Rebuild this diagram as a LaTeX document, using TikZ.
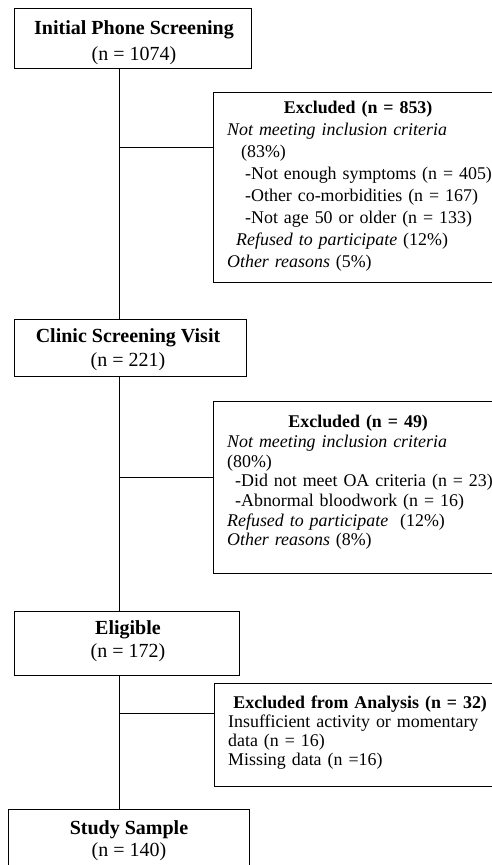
\documentclass[tikz,border=0pt]{standalone}
\usepackage{fontspec}
\setmainfont{Liberation Serif}
\begin{document}
\begin{tikzpicture}[x=1pt,y=-1pt,
  mainbox/.style={draw, line width=1.1pt, inner sep=0pt, anchor=north west},
  maintext/.style={inner sep=0pt, align=center},
  exbox/.style={draw, line width=1.1pt, inner sep=0pt, anchor=north west},
  extext/.style={anchor=north west, inner sep=0pt, text width=300pt, align=left},
  conn/.style={line width=0.9pt}]
\useasboundingbox (0,0) rectangle (492,865);
\clip (0,0) rectangle (492,865);
% main boxes
\node[mainbox, minimum width=237pt, minimum height=60pt] (phone) at (14,8) {};
\node[maintext, font=\fontsize{20}{26}\selectfont] (phoneT) at (134,43)
  {\textbf{Initial Phone Screening}\\(n = 1074)};
\node[mainbox, minimum width=232pt, minimum height=57pt] (clinic) at (14,319) {};
\node[maintext, font=\fontsize{20}{24}\selectfont] (clinicT) at (128,350)
  {\textbf{Clinic Screening Visit}\\(n = 221)};
\node[mainbox, minimum width=225pt, minimum height=64pt] (elig) at (14,611) {};
\node[maintext, font=\fontsize{20}{23}\selectfont] (eligT) at (128,641.5)
  {\textbf{Eligible}\\(n = 172)};
\node[mainbox, minimum width=241pt, minimum height=66pt] (study) at (8,809) {};
\node[maintext, font=\fontsize{20}{22}\selectfont] (studyT) at (129,841)
  {\textbf{Study Sample}\\(n = 140)};
% excluded boxes
\node[exbox, minimum width=290pt, minimum height=190pt] (ex1) at (213,92) {};
\node[exbox, minimum width=290pt, minimum height=172pt] (ex2) at (213,401) {};
\node[exbox, minimum width=290pt, minimum height=103pt] (ex3) at (214,683) {};
% excluded texts
\node[extext, font=\fontsize{17.9}{22}\selectfont] (ex1t) at (227,101)
  {\makebox[262pt]{\textbf{Excluded (n = 853)}}\\
   \textit{Not meeting inclusion criteria}\\
   \hspace*{14pt}(83\%)\\
   \hspace*{18pt}-Not enough symptoms (n = 405)\\
   \hspace*{18pt}-Other co-morbidities (n = 167)\\
   \hspace*{18pt}-Not age 50 or older (n = 133)\\
   \hspace*{9pt}\textit{Refused to participate} (12\%)\\
   \textit{Other reasons} (5\%)};
\node[extext, font=\fontsize{17.9}{19.7}\selectfont] (ex2t) at (227,415)
  {\makebox[262pt]{\textbf{Excluded (n = 49)}}\\
   \textit{Not meeting inclusion criteria}\\
   (80\%)\\
   \hspace*{8pt}-Did not meet OA criteria (n = 23)\\
   \hspace*{8pt}-Abnormal bloodwork (n = 16)\\
   \textit{Refused to participate}\ \ (12\%)\\
   \textit{Other reasons} (8\%)};
\node[extext, font=\fontsize{17.9}{19}\selectfont] (ex3t) at (228,696)
  {\makebox[264pt]{\textbf{Excluded from Analysis (n = 32)}}\\
   Insufficient activity or momentary\\
   data (n = 16)\\
   Missing data (n =16)};
% connectors
\coordinate (spine) at (119.5,0);
\coordinate (b1) at (0,147);
\coordinate (b2) at (0,477);
\coordinate (b3) at (0,713);
\draw[conn] (spine |- phone.south) -- (spine |- clinic.north);
\draw[conn] (spine |- clinic.south) -- (spine |- elig.north);
\draw[conn] (spine |- elig.south) -- (spine |- study.north);
\draw[conn] (spine |- b1) -- (ex1.west |- b1);
\draw[conn] (spine |- b2) -- (ex2.west |- b2);
\draw[conn] (spine |- b3) -- (ex3.west |- b3);
\end{tikzpicture}
\end{document}
